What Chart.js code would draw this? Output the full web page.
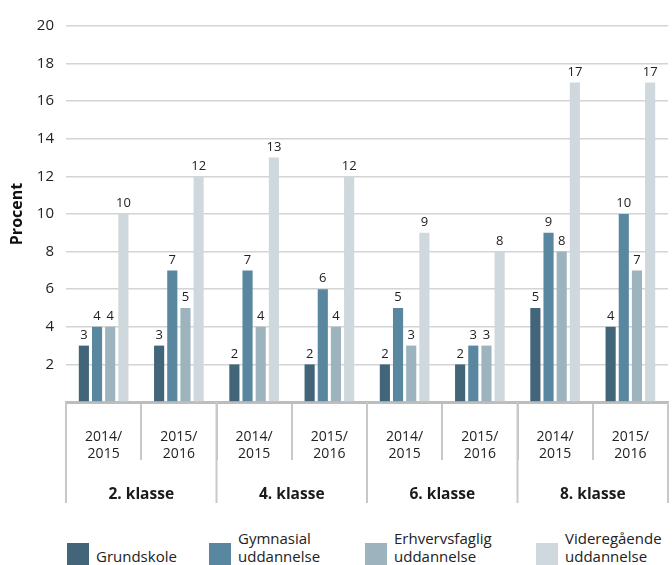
<!DOCTYPE html>
<html lang="da">
<head>
<meta charset="UTF-8" />
<title>Procent fordelt på klassetrin</title>
<script src="https://cdn.jsdelivr.net/npm/chart.js"></script>
<style>
  body { margin: 0; background: #fff; font-family: "Open Sans", sans-serif; }
  #wrap { position: relative; width: 672px; height: 565px; overflow: hidden; }
  #chartBox { position: absolute; left: 0; top: 0; width: 672px; height: 528px; }
  #legend { position: absolute; left: 0; top: 528px; width: 672px; height: 37px; }
  .item { position: absolute; bottom: 0; display: flex; align-items: flex-end; }
  .swatch { width: 22px; height: 22px; margin-right: 7px; }
  .txt { font-size: 15px; line-height: 18px; color: #222; text-align: left; }
</style>
</head>
<body>
<div id="wrap">
  <div id="chartBox"><canvas id="chart"></canvas></div>
  <div id="legend"></div>
</div>
<script>
// categories
const years = [["2014/", "2015"], ["2015/", "2016"], ["2014/", "2015"], ["2015/", "2016"],
               ["2014/", "2015"], ["2015/", "2016"], ["2014/", "2015"], ["2015/", "2016"]];
const groups = ["2. klasse", "4. klasse", "6. klasse", "8. klasse"];

// series
const seriesNames = ["Grundskole", "Gymnasial\nuddannelse", "Erhvervsfaglig\nuddannelse", "Videregående\nuddannelse"];
const grundskole = [3, 3, 2, 2, 2, 2, 5, 4];
const gymnasial = [4, 7, 7, 6, 5, 3, 9, 10];
const erhverv = [4, 5, 4, 4, 3, 3, 8, 7];
const videregaaende = [10, 12, 13, 12, 9, 8, 17, 17];
const colors = ["#42657a", "#5a87a0", "#9db4bf", "#cfd8dc"];

// y axis
const yMax = 20;
const yStep = 2;

const legendLeft = [67, 209, 365, 536];

const valueLabels = {
  id: "valueLabels",
  afterDatasetsDraw(chart) {
    const ctx = chart.ctx;
    ctx.save();
    ctx.font = "13px 'Open Sans'";
    ctx.fillStyle = "#222";
    ctx.textAlign = "center";
    ctx.textBaseline = "bottom";
    chart.data.datasets.forEach((ds, i) => {
      chart.getDatasetMeta(i).data.forEach((bar, j) => {
        ctx.fillText(ds.data[j], bar.x, bar.y - 4);
      });
    });
    ctx.restore();
  }
};

const groupAxis = {
  id: "groupAxis",
  afterDraw(chart) {
    const ctx = chart.ctx;
    const x = chart.scales.x;
    const step = x.getPixelForValue(1) - x.getPixelForValue(0);
    const top = chart.chartArea.bottom;
    ctx.save();
    ctx.strokeStyle = "#c8c8c8";
    ctx.lineWidth = 2;
    for (let g = 0; g <= groups.length; g++) {
      const px = x.getPixelForValue(g * 2) - step / 2;
      ctx.beginPath();
      ctx.moveTo(px, top);
      ctx.lineTo(px, top + 101);
      ctx.stroke();
    }
    ctx.font = "bold 15.5px 'Open Sans'";
    ctx.fillStyle = "#1a1a1a";
    ctx.textAlign = "center";
    ctx.textBaseline = "middle";
    groups.forEach((g, k) => {
      const cx = (x.getPixelForValue(2 * k) + x.getPixelForValue(2 * k + 1)) / 2;
      ctx.fillText(g, cx, top + 93);
    });
    ctx.restore();
  }
};

const datasets = [grundskole, gymnasial, erhverv, videregaaende].map((d, i) => ({
  label: seriesNames[i],
  data: d,
  backgroundColor: colors[i],
  barPercentage: 0.77,
  categoryPercentage: 0.7
}));

new Chart(document.getElementById("chart"), {
  type: "bar",
  data: { labels: years, datasets: datasets },
  options: {
    responsive: true,
    maintainAspectRatio: false,
    animation: false,
    layout: { padding: { top: 26, right: 4, left: 0, bottom: 0 } },
    plugins: { legend: { display: false }, tooltip: { enabled: false } },
    scales: {
      x: {
        grid: { offset: true, drawOnChartArea: false, drawTicks: true, tickLength: 58, color: "#c8c8c8", lineWidth: 2 },
        border: { display: true, color: "#bdbdbd", width: 3 },
        ticks: { font: { family: "Open Sans", size: 14 }, color: "#222", padding: -31, maxRotation: 0, autoSkip: false },
        afterFit(scale) { scale.height = 126; }
      },
      y: {
        min: 0,
        max: yMax,
        grid: { color: "#d4d4d4", lineWidth: 1.5, drawTicks: false },
        border: { display: false },
        ticks: {
          stepSize: yStep,
          padding: 12,
          color: "#222",
          font: { family: "Open Sans", size: 15 },
          callback: v => (v === 0 ? "" : v)
        },
        title: { display: true, text: "Procent", color: "#111", font: { family: "Open Sans", size: 16, weight: "bold" }, padding: { top: 8, bottom: 0 } },
        afterFit(scale) { scale.width = 66; }
      }
    }
  },
  plugins: [valueLabels, groupAxis]
});

const legend = document.getElementById("legend");
seriesNames.forEach((name, i) => {
  const item = document.createElement("div");
  item.className = "item";
  item.style.left = legendLeft[i] + "px";
  const sw = document.createElement("div");
  sw.className = "swatch";
  sw.style.background = colors[i];
  const t = document.createElement("div");
  t.className = "txt";
  t.innerHTML = name.replace("\n", "<br>");
  item.appendChild(sw);
  item.appendChild(t);
  legend.appendChild(item);
});
</script>
</body>
</html>
